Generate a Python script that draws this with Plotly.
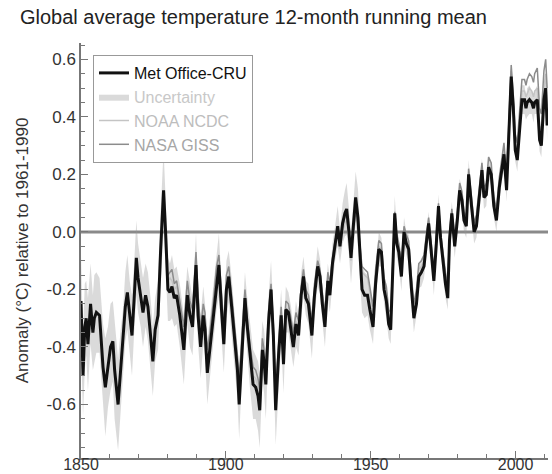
import plotly.graph_objects as go

# ---------------- data ----------------
years = [
    1850.0, 1850.4, 1850.7, 1851.3, 1851.8, 1852.4, 1853.3, 1854.1, 1854.6, 1855.3, 1856.4, 1857.6, 1858.4, 1859.3,
    1860.2, 1861.0, 1861.6, 1862.8, 1863.7, 1864.5, 1865.3, 1866.0, 1866.8, 1867.6, 1868.3, 1869.1, 1869.7,
    1870.6, 1871.4, 1872.3, 1873.1, 1874.0, 1874.8, 1875.6, 1876.6, 1877.5, 1878.5, 1879.2,
    1880.0, 1880.7, 1881.4, 1882.2, 1883.0, 1884.1, 1885.5, 1886.7, 1887.6, 1888.5, 1889.7,
    1890.4, 1891.3, 1892.2, 1892.8, 1893.6, 1894.5, 1895.6, 1896.8, 1897.6, 1898.5, 1899.3,
    1900.2, 1901.0, 1902.0, 1903.1, 1904.0, 1904.6, 1905.4, 1906.6, 1907.3, 1908.3, 1909.4,
    1910.3, 1911.1, 1911.7, 1912.6, 1913.2, 1913.8, 1914.7, 1915.6, 1916.4, 1917.2, 1918.2, 1919.1, 1919.9,
    1920.7, 1921.6, 1922.5, 1923.3, 1924.2, 1925.1, 1926.0, 1926.8, 1927.6, 1928.5, 1929.7,
    1930.6, 1931.7, 1932.5, 1933.3, 1934.2, 1935.2, 1935.9, 1936.8, 1937.7, 1938.6, 1939.4,
    1940.3, 1941.1, 1941.7, 1942.5, 1943.2, 1944.0, 1944.8, 1945.6, 1946.2, 1947.0, 1947.9, 1948.9, 1949.7,
    1950.8, 1951.7, 1952.8, 1953.7, 1954.6, 1955.4, 1956.2, 1956.9, 1957.7, 1958.3, 1959.0, 1959.7,
    1960.6, 1961.5, 1962.3, 1963.1, 1964.0, 1964.9, 1965.8, 1966.6, 1967.5, 1968.4, 1969.2,
    1970.0, 1970.9, 1971.8, 1972.6, 1973.4, 1974.1, 1974.9, 1975.8, 1976.6, 1977.2, 1978.0, 1979.0, 1979.9,
    1980.7, 1981.5, 1982.2, 1983.0, 1983.8, 1984.8, 1985.7, 1986.5, 1987.4, 1988.4, 1989.1, 1989.9,
    1990.7, 1991.6, 1992.5, 1993.4, 1994.4, 1995.3, 1996.0, 1996.9, 1997.7, 1998.5, 1999.2, 1999.9,
    2000.6, 2001.4, 2002.2, 2003.1, 2003.6, 2004.0, 2004.8, 2005.6, 2006.2, 2006.6, 2007.5, 2008.3, 2008.9, 2009.8,
    2010.4, 2010.9,
]

met_office_cru = [
    -0.24, -0.38, -0.50, -0.33, -0.30, -0.39, -0.25, -0.35, -0.30, -0.28, -0.29, -0.47, -0.54, -0.47,
    -0.40, -0.38, -0.48, -0.60, -0.48, -0.40, -0.26, -0.21, -0.29, -0.36, -0.24, -0.09, -0.16,
    -0.22, -0.28, -0.22, -0.26, -0.36, -0.45, -0.34, -0.29, -0.06, 0.145, 0.0,
    -0.20, -0.21, -0.19, -0.23, -0.22, -0.29, -0.41, -0.22, -0.29, -0.33, -0.115,
    -0.29, -0.40, -0.29, -0.34, -0.49, -0.40, -0.29, -0.17, -0.115, -0.27, -0.39,
    -0.20, -0.155, -0.26, -0.38, -0.48, -0.60, -0.43, -0.23, -0.32, -0.43, -0.53,
    -0.54, -0.57, -0.62, -0.41, -0.45, -0.53, -0.32, -0.20, -0.36, -0.62, -0.43, -0.29, -0.46,
    -0.27, -0.28, -0.34, -0.40, -0.32, -0.36, -0.22, -0.155, -0.23, -0.25, -0.36,
    -0.22, -0.12, -0.155, -0.25, -0.33, -0.17, -0.22, -0.11, -0.04, 0.02, -0.05,
    0.03, 0.065, 0.08, 0.0, -0.09, 0.02, 0.12, 0.05, -0.07, -0.20, -0.22, -0.22, -0.27,
    -0.33, -0.18, -0.06, -0.07, -0.20, -0.24, -0.32, -0.34, -0.10, 0.065, -0.04, -0.07,
    -0.155, 0.0, -0.04, -0.06, -0.19, -0.30, -0.25, -0.155, -0.14, -0.12, -0.04,
    0.03, -0.07, -0.17, -0.05, 0.09, -0.02, -0.10, -0.18, -0.23, -0.03, 0.065, -0.05, 0.04,
    0.145, 0.11, 0.04, 0.02, 0.20, 0.09, 0.0, 0.02, 0.11, 0.215, 0.12, 0.13,
    0.225, 0.20, 0.09, 0.04, 0.155, 0.225, 0.27, 0.145, 0.32, 0.54, 0.435, 0.285,
    0.25, 0.355, 0.46, 0.46, 0.43, 0.45, 0.46, 0.45, 0.43, 0.45, 0.46, 0.32, 0.30, 0.46,
    0.50, 0.37,
]

uncertainty_halfwidth = [
    0.16, 0.15, 0.14, 0.15, 0.13, 0.16, 0.14, 0.13, 0.15, 0.14, 0.13, 0.15, 0.17, 0.14,
    0.15, 0.14, 0.17, 0.16, 0.14, 0.13, 0.12, 0.13, 0.12, 0.14, 0.12, 0.13, 0.12,
    0.11, 0.12, 0.11, 0.12, 0.13, 0.12, 0.11, 0.12, 0.13, 0.14, 0.12,
    0.11, 0.10, 0.11, 0.10, 0.10, 0.11, 0.12, 0.10, 0.11, 0.10, 0.11,
    0.10, 0.11, 0.10, 0.09, 0.11, 0.10, 0.09, 0.10, 0.11, 0.09, 0.10,
    0.10, 0.09, 0.10, 0.09, 0.10, 0.12, 0.10, 0.09, 0.10, 0.11, 0.12,
    0.11, 0.12, 0.13, 0.10, 0.11, 0.12, 0.09, 0.10, 0.09, 0.12, 0.10, 0.09, 0.10,
    0.08, 0.07, 0.08, 0.07, 0.08, 0.07, 0.08, 0.07, 0.06, 0.07, 0.08,
    0.06, 0.07, 0.06, 0.06, 0.07, 0.06, 0.06, 0.07, 0.06, 0.07, 0.06,
    0.07, 0.08, 0.09, 0.08, 0.09, 0.08, 0.09, 0.10, 0.09, 0.08, 0.08, 0.07, 0.07,
    0.06, 0.05, 0.06, 0.05, 0.05, 0.06, 0.05, 0.05, 0.05, 0.06, 0.05, 0.05,
    0.05, 0.05, 0.04, 0.05, 0.04, 0.05, 0.04, 0.04, 0.05, 0.04, 0.04,
    0.04, 0.04, 0.05, 0.04, 0.04, 0.04, 0.04, 0.05, 0.04, 0.04, 0.04, 0.04, 0.04,
    0.04, 0.04, 0.04, 0.04, 0.05, 0.04, 0.04, 0.04, 0.04, 0.04, 0.04, 0.04,
    0.04, 0.04, 0.04, 0.04, 0.04, 0.04, 0.04, 0.04, 0.04, 0.05, 0.04, 0.04,
    0.04, 0.04, 0.05, 0.05, 0.04, 0.05, 0.05, 0.04, 0.05, 0.04, 0.05, 0.04, 0.04, 0.05,
    0.05, 0.05,
]

# NOAA and NASA series start in 1880 (same sampling times as above from 1880.0)
first_1880 = years.index(1880.0)

noaa_ncdc = [
    -0.17, -0.16, -0.17, -0.20, -0.19, -0.26, -0.36, -0.20, -0.27, -0.30, -0.10,
    -0.26, -0.37, -0.27, -0.31, -0.45, -0.38, -0.27, -0.15, -0.11, -0.25, -0.36,
    -0.19, -0.15, -0.25, -0.36, -0.46, -0.55, -0.41, -0.22, -0.31, -0.42, -0.50,
    -0.51, -0.54, -0.58, -0.40, -0.44, -0.50, -0.31, -0.21, -0.35, -0.58, -0.42, -0.29, -0.43,
    -0.27, -0.28, -0.33, -0.38, -0.31, -0.34, -0.22, -0.17, -0.23, -0.25, -0.34,
    -0.21, -0.13, -0.15, -0.24, -0.31, -0.17, -0.21, -0.12, -0.06, -0.01, -0.06,
    0.00, 0.03, 0.04, -0.03, -0.10, -0.01, 0.06, 0.02, -0.06, -0.14, -0.15, -0.16, -0.21,
    -0.28, -0.15, -0.05, -0.06, -0.18, -0.21, -0.29, -0.30, -0.08, 0.05, -0.03, -0.06,
    -0.13, 0.00, -0.03, -0.05, -0.17, -0.27, -0.22, -0.13, -0.12, -0.10, -0.03,
    0.03, -0.06, -0.15, -0.04, 0.08, -0.02, -0.09, -0.16, -0.21, -0.02, 0.06, -0.04, 0.05,
    0.14, 0.11, 0.05, 0.03, 0.19, 0.09, 0.01, 0.03, 0.12, 0.21, 0.12, 0.14,
    0.23, 0.21, 0.10, 0.06, 0.16, 0.23, 0.28, 0.16, 0.34, 0.56, 0.45, 0.30,
    0.27, 0.38, 0.49, 0.49, 0.47, 0.48, 0.50, 0.49, 0.47, 0.49, 0.50, 0.37, 0.35, 0.50,
    0.55, 0.44,
]

nasa_giss = [
    -0.15, -0.14, -0.13, -0.18, -0.17, -0.24, -0.33, -0.17, -0.24, -0.27, -0.07,
    -0.22, -0.34, -0.25, -0.28, -0.41, -0.35, -0.25, -0.12, -0.08, -0.22, -0.33,
    -0.15, -0.12, -0.22, -0.33, -0.43, -0.51, -0.39, -0.20, -0.29, -0.39, -0.47,
    -0.48, -0.51, -0.55, -0.37, -0.41, -0.47, -0.28, -0.18, -0.32, -0.55, -0.40, -0.26, -0.40,
    -0.24, -0.25, -0.30, -0.35, -0.28, -0.31, -0.19, -0.13, -0.20, -0.22, -0.31,
    -0.18, -0.10, -0.13, -0.21, -0.28, -0.14, -0.18, -0.09, -0.03, 0.01, -0.04,
    0.02, 0.05, 0.06, -0.02, -0.08, 0.01, 0.07, 0.03, -0.04, -0.12, -0.13, -0.14, -0.19,
    -0.26, -0.13, -0.03, -0.04, -0.16, -0.19, -0.27, -0.28, -0.06, 0.07, -0.01, -0.04,
    -0.11, 0.02, -0.01, -0.03, -0.15, -0.25, -0.20, -0.11, -0.10, -0.08, -0.01,
    0.05, -0.04, -0.13, -0.02, 0.10, 0.00, -0.07, -0.14, -0.19, 0.00, 0.08, -0.02, 0.07,
    0.17, 0.14, 0.07, 0.05, 0.22, 0.12, 0.03, 0.06, 0.15, 0.24, 0.15, 0.17,
    0.26, 0.24, 0.12, 0.08, 0.19, 0.26, 0.31, 0.19, 0.37, 0.58, 0.48, 0.34,
    0.31, 0.42, 0.53, 0.53, 0.51, 0.53, 0.55, 0.54, 0.52, 0.55, 0.57, 0.43, 0.41, 0.56,
    0.60, 0.50,
]

y_tick_values = [-0.6, -0.4, -0.2, 0.0, 0.2, 0.4, 0.6]
x_tick_values = [1850, 1900, 1950, 2000]

assert len(years) == len(met_office_cru) == len(uncertainty_halfwidth)
assert len(noaa_ncdc) == len(years) - first_1880 == len(nasa_giss)

unc_low = [v - h for v, h in zip(met_office_cru, uncertainty_halfwidth)]
unc_high = [v + h for v, h in zip(met_office_cru, uncertainty_halfwidth)]
years_1880 = years[first_1880:]

FONT = "Liberation Sans, Arial, Helvetica, sans-serif"

fig = go.Figure()

fig.add_trace(go.Scatter(
    x=years, y=unc_low, mode="lines", line=dict(width=0, color="rgba(0,0,0,0)"),
    showlegend=False, hoverinfo="skip"))
fig.add_trace(go.Scatter(
    x=years, y=unc_high, mode="lines", line=dict(width=0, color="rgba(0,0,0,0)"),
    fill="tonexty", fillcolor="rgba(150,150,150,0.35)",
    name='<span style="color:#c8c8c8">Uncertainty</span>', legendrank=2))
fig.add_trace(go.Scatter(
    x=years_1880, y=noaa_ncdc, mode="lines", line=dict(width=1.5, color="#c4c4c4"),
    name='<span style="color:#bdbdbd">NOAA NCDC</span>', legendrank=3))
fig.add_trace(go.Scatter(
    x=years_1880, y=nasa_giss, mode="lines", line=dict(width=1.5, color="#8c8c8c"),
    name='<span style="color:#a6a6a6">NASA GISS</span>', legendrank=4))
fig.add_trace(go.Scatter(
    x=years, y=met_office_cru, mode="lines", line=dict(width=3, color="#111111"),
    name="Met Office-CRU", legendrank=1))

fig.add_hline(y=0, line=dict(color="#8a8a8a", width=3), layer="below")

fig.update_layout(
    width=552, height=474,
    margin=dict(l=81, r=4, t=43, b=16, autoexpand=False),
    paper_bgcolor="white", plot_bgcolor="white",
    font=dict(family=FONT, size=17, color="#333333"),
    title=dict(text="Global average temperature 12-month running mean",
               x=20 / 552, xref="container", xanchor="left",
               y=1 - 17 / 474, yref="container", yanchor="middle",
               font=dict(family=FONT, size=20, color="#222222")),
    legend=dict(x=12 / 467, y=1 - 12 / 415, xanchor="left", yanchor="top",
                traceorder="normal",
                bgcolor="white", bordercolor="#999999", borderwidth=1,
                font=dict(family=FONT, size=16, color="#111111"),
                tracegroupgap=0),
    showlegend=True,
)

fig.update_xaxes(
    range=[1850, 2011.2], showgrid=False, zeroline=False, automargin=False,
    showline=True, linecolor="#777777", linewidth=1.5,
    tickmode="array", tickvals=x_tick_values, ticktext=[str(v) for v in x_tick_values],
    ticks="inside", ticklen=7, tickcolor="#777777", tickwidth=1.2,
    minor=dict(dtick=10, tick0=1850, ticks="inside", ticklen=4, tickcolor="#777777"),
    tickfont=dict(size=16, color="#333333"),
    ticklabelstandoff=-9,
)
fig.update_yaxes(
    range=[-0.786, 0.657], showgrid=False, zeroline=False, automargin=False,
    showline=True, linecolor="#777777", linewidth=1.5,
    tickmode="array", tickvals=y_tick_values, ticktext=[f"{v:.1f}" for v in y_tick_values],
    ticks="inside", ticklen=7, tickcolor="#777777", tickwidth=1.2,
    minor=dict(dtick=0.05, tick0=0, ticks="inside", ticklen=4, tickcolor="#777777"),
    tickfont=dict(size=17, color="#333333"),
    title=dict(text="Anomaly (°C) relative to 1961-1990", standoff=14,
               font=dict(family=FONT, size=17, color="#333333")),
)

fig.write_html("out.html",
               config={"displayModeBar": False},
               post_script="document.body.style.margin='0';document.body.style.overflow='hidden';")
